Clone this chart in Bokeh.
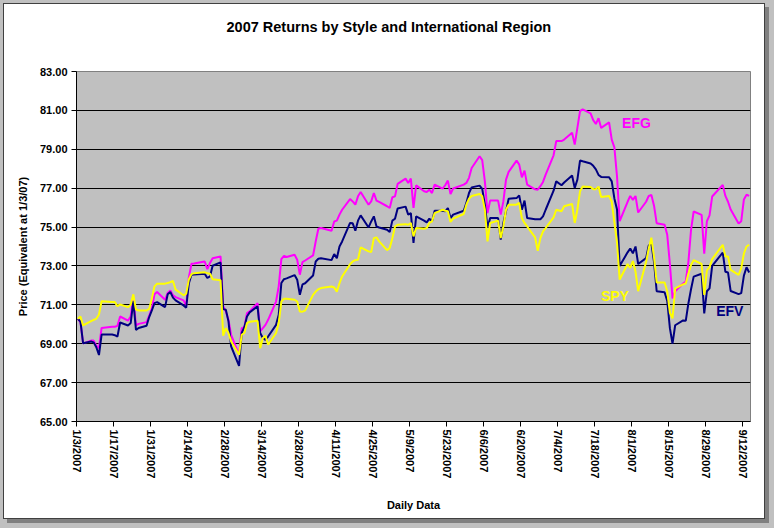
from datetime import datetime, timedelta
from bokeh.plotting import figure
from bokeh.models import Range1d, FixedTicker, NumeralTickFormatter, DatetimeTickFormatter, Label
from bokeh.embed import file_html
from bokeh.resources import INLINE

# ---------------- data ----------------
trading_days = {
    1: [3, 4, 5, 8, 9, 10, 11, 12, 16, 17, 18, 19, 22, 23, 24, 25, 26, 29, 30, 31],
    2: [1, 2, 5, 6, 7, 8, 9, 12, 13, 14, 15, 16, 20, 21, 22, 23, 26, 27, 28],
    3: [1, 2, 5, 6, 7, 8, 9, 12, 13, 14, 15, 16, 19, 20, 21, 22, 23, 26, 27, 28, 29, 30],
    4: [2, 3, 4, 5, 9, 10, 11, 12, 13, 16, 17, 18, 19, 20, 23, 24, 25, 26, 27, 30],
    5: [1, 2, 3, 4, 7, 8, 9, 10, 11, 14, 15, 16, 17, 18, 21, 22, 23, 24, 25, 29, 30, 31],
    6: [1, 4, 5, 6, 7, 8, 11, 12, 13, 14, 15, 18, 19, 20, 21, 22, 25, 26, 27, 28, 29],
    7: [2, 3, 5, 6, 9, 10, 11, 12, 13, 16, 17, 18, 19, 20, 23, 24, 25, 26, 27, 30, 31],
    8: [1, 2, 3, 6, 7, 8, 9, 10, 13, 14, 15, 16, 17, 20, 21, 22, 23, 24, 27, 28, 29, 30, 31],
    9: [4, 5, 6, 7, 10, 11, 12, 13, 14],
}

efg = [
    70.28, 70.11, 69.02, 69.16, 69.16, 68.90, 68.78, 69.81, 69.87, 69.87, 69.92, 70.40, 70.19, 70.40, 71.37, 69.94, 70.02, 70.11, 70.45, 70.80,
    71.54, 71.66, 71.26, 71.61, 71.74, 71.49, 71.40, 71.23, 70.97, 72.40, 73.11, 73.13, 73.23, 72.84, 73.15, 73.40, 73.49, 70.92, 70.66,
    70.23, 69.46, 68.43, 69.80, 69.85, 70.57, 70.66, 71.09, 69.63, 69.80, 69.97, 70.23, 71.17, 71.95, 73.35, 73.52, 73.46, 73.58, 73.32, 72.55, 73.20, 73.28,
    73.54, 74.26, 74.91, 74.95, 74.81, 75.29, 75.33, 75.64, 75.89, 76.44, 76.32, 76.15, 76.58, 76.80, 76.15, 76.32, 76.75, 76.36, 76.29, 76.07,
    75.98, 76.53, 76.58, 77.22, 77.49, 77.27, 77.49, 75.98, 77.15, 76.84, 76.80, 76.92, 76.75, 77.18, 76.98, 77.15, 77.39, 76.70, 76.98, 77.18, 77.27, 77.53,
    78.04, 78.64, 78.44, 77.35, 75.72, 76.36, 76.36, 75.64, 76.32, 77.44, 77.84, 78.42, 78.21, 77.56, 77.90, 77.18, 76.94, 76.92, 77.10, 77.32, 77.70,
    78.69, 79.42, 79.42, 79.50, 79.85, 79.24, 80.10, 80.96, 81.05, 80.85, 80.50, 80.30, 80.60, 80.10, 80.38, 79.50, 79.10, 77.60, 75.30, 76.30, 76.60,
    76.40, 76.60, 75.75, 76.30, 76.60, 76.65, 76.10, 75.20, 75.12, 74.60, 73.10, 71.33, 71.70, 72.10, 72.20, 73.20, 74.85, 75.80, 75.63, 73.63, 75.30, 75.60, 76.57,
    77.17, 76.60, 76.30, 75.90, 75.18, 75.30, 76.42, 76.66, 76.60,
]

efv = [
    70.28, 70.14, 69.02, 69.11, 69.07, 68.82, 68.42, 69.47, 69.47, 69.44, 69.37, 70.09, 69.94, 70.06, 71.19, 69.71, 69.81, 69.92, 70.37, 70.71,
    71.09, 71.14, 70.88, 71.54, 71.66, 71.37, 71.23, 70.97, 70.85, 72.10, 72.55, 72.56, 72.60, 72.38, 72.46, 73.01, 73.18, 70.78, 70.75,
    70.15, 68.86, 67.86, 69.55, 69.85, 70.40, 70.61, 70.92, 69.55, 69.29, 69.20, 69.37, 69.97, 70.49, 72.12, 72.32, 72.36, 72.53, 72.29, 71.52, 72.05, 72.11,
    72.51, 73.23, 73.37, 73.40, 73.30, 73.61, 73.40, 74.00, 74.26, 75.21, 75.19, 74.81, 75.33, 75.60, 74.98, 75.29, 75.55, 75.03, 74.98, 74.86,
    74.74, 75.33, 75.43, 75.95, 76.05, 75.64, 75.72, 74.18, 75.55, 75.33, 75.24, 75.43, 75.29, 75.84, 75.84, 75.81, 75.98, 75.46, 75.64, 75.84, 76.24, 76.75,
    77.04, 77.13, 76.96, 76.15, 74.98, 75.46, 75.46, 74.35, 75.21, 75.81, 76.46, 76.49, 76.63, 75.89, 76.36, 75.46, 75.40, 75.40, 75.40, 75.55, 75.89,
    76.87, 77.35, 77.15, 77.29, 77.65, 77.01, 77.44, 78.42, 78.38, 78.27, 78.15, 77.97, 77.68, 77.58, 77.56, 77.35, 76.47, 75.90, 73.00, 73.70, 73.90,
    73.65, 74.00, 73.10, 73.40, 74.05, 74.15, 73.20, 71.70, 71.65, 71.20, 69.80, 69.00, 69.95, 70.20, 70.18, 71.07, 71.80, 72.45, 72.60, 70.56, 71.70, 71.85, 73.00,
    73.69, 72.70, 72.66, 71.71, 71.55, 71.60, 72.50, 72.93, 72.66,
]

spy = [
    70.28, 70.40, 69.94, 70.16, 70.23, 70.28, 70.50, 71.19, 71.14, 71.14, 70.93, 71.02, 70.88, 71.00, 71.54, 70.76, 70.71, 70.71, 70.80, 71.31,
    71.95, 72.09, 72.09, 72.12, 72.17, 72.23, 71.78, 71.49, 71.57, 72.30, 72.58, 72.63, 72.67, 72.63, 72.60, 72.32, 72.26, 69.41, 69.80,
    69.55, 69.12, 68.43, 69.46, 69.55, 70.06, 70.13, 70.18, 68.77, 69.29, 69.41, 68.95, 69.55, 70.06, 71.17, 71.31, 71.31, 71.26, 71.17, 70.66, 70.65, 70.70,
    71.51, 71.68, 71.80, 71.86, 71.94, 71.89, 71.68, 72.11, 72.46, 73.09, 73.23, 73.30, 73.32, 73.95, 73.75, 73.71, 74.43, 74.47, 74.26, 73.81,
    73.92, 74.43, 75.02, 75.12, 75.15, 75.12, 75.21, 74.52, 74.95, 74.91, 74.95, 75.21, 75.29, 75.72, 75.89, 75.84, 75.81, 75.26, 75.43, 75.67, 76.15, 76.46,
    76.60, 76.70, 76.58, 75.89, 74.26, 75.21, 75.33, 74.43, 75.03, 75.89, 76.15, 76.15, 76.24, 75.46, 75.21, 75.03, 74.47, 73.78, 74.43, 74.78, 74.95,
    75.50, 75.89, 75.81, 76.07, 76.19, 75.21, 75.89, 76.84, 77.08, 77.06, 76.95, 76.95, 77.08, 76.55, 76.60, 76.30, 75.25, 74.20, 72.30, 73.10, 72.90,
    73.25, 72.70, 71.70, 73.20, 73.90, 74.45, 73.45, 72.15, 72.15, 71.70, 70.60, 70.30, 71.85, 72.05, 72.10, 72.60, 73.05, 73.30, 73.10, 71.51, 72.77, 72.94, 73.35,
    74.09, 73.49, 73.49, 72.80, 72.54, 72.89, 73.63, 74.00, 74.09,
]

y_ticks = [65, 67, 69, 71, 73, 75, 77, 79, 81, 83]
x_tick_start = datetime(2007, 1, 3)
x_tick_step_days = 14
x_tick_count = 19

# ---------------- build ----------------
dates = [datetime(2007, m, d) for m in sorted(trading_days) for d in trading_days[m]]
# Excel date axis, "between tick marks": each day's point sits mid-slot
xs = [d + timedelta(hours=12) for d in dates]

EPOCH = datetime(1970, 1, 1)
def ms(dt):
    return (dt - EPOCH).total_seconds() * 1000.0

tick_dates = [x_tick_start + timedelta(days=x_tick_step_days * i) for i in range(x_tick_count)]

FONT = "Liberation Sans"

p = figure(
    width=762, height=516,
    x_axis_type="datetime",
    x_range=Range1d(ms(datetime(2007, 1, 3)), ms(datetime(2007, 9, 15))),
    y_range=Range1d(65, 83),
    output_backend="svg", toolbar_location=None,
    min_border_left=72, min_border_right=16, min_border_top=67, min_border_bottom=99,
    background_fill_color="#C0C0C0", border_fill_color="white",
)
p.outline_line_color = "#808080"
p.outline_line_width = 1

# chart title (extra empty lines lift it away from the plot frame)
p.title.text = "2007 Returns by Style and International Region\n\n"
p.title.align = "left"
p.title.offset = 150
p.title.standoff = 9
p.title.text_font = FONT
p.title.text_font_style = "bold"
p.title.text_font_size = "14.5px"
p.title.text_color = "black"

# grid
p.xgrid.visible = False
p.ygrid.ticker = FixedTicker(ticks=y_ticks)
p.ygrid.grid_line_color = "black"
p.ygrid.grid_line_width = 1

# y axis
p.yaxis.ticker = FixedTicker(ticks=y_ticks)
p.yaxis.formatter = NumeralTickFormatter(format="0.00")
p.yaxis.axis_label = "Price (Equivalent at 1/3/07)"
p.yaxis.major_tick_out = 5
p.yaxis.major_tick_in = 0
p.yaxis.minor_tick_out = 0
p.yaxis.minor_tick_in = 0
p.yaxis.major_label_standoff = 4
p.yaxis.axis_label_standoff = 8

# x axis
p.xaxis.ticker = FixedTicker(ticks=[ms(t) for t in tick_dates])
fmt = "%-m/%-d/%Y"
p.xaxis.formatter = DatetimeTickFormatter(
    microseconds=fmt, milliseconds=fmt, seconds=fmt, minsec=fmt, minutes=fmt,
    hourmin=fmt, hours=fmt, days=fmt, months=fmt, years=fmt,
)
p.xaxis.major_label_orientation = "vertical"
p.xaxis.axis_label = "Daily Data"
p.xaxis.major_tick_out = 5
p.xaxis.major_tick_in = 0
p.xaxis.minor_tick_out = 0
p.xaxis.minor_tick_in = 0
p.xaxis.major_label_standoff = 3
p.xaxis.axis_label_standoff = 18

for ax in (p.xaxis, p.yaxis):
    ax.axis_line_color = "black"
    ax.major_tick_line_color = "black"
    ax.major_label_text_font = FONT
    ax.major_label_text_font_style = "bold"
    ax.major_label_text_font_size = "11px"
    ax.major_label_text_color = "black"
    ax.axis_label_text_font = FONT
    ax.axis_label_text_font_style = "bold"
    ax.axis_label_text_font_size = "11px"
    ax.axis_label_text_color = "black"

# series
p.line(xs, efg, line_color="#FF00FF", line_width=2)
p.line(xs, efv, line_color="#000080", line_width=2)
p.line(xs, spy, line_color="#FFFF00", line_width=2)

# series name labels
for txt, when, yv, col in [
    ("EFG", datetime(2007, 7, 28, 10), 80.35, "#FF00FF"),
    ("SPY", datetime(2007, 7, 20, 10), 71.43, "#FFFF00"),
    ("EFV", datetime(2007, 9, 2, 0), 70.66, "#000080"),
]:
    p.add_layout(Label(x=ms(when), y=yv, text=txt, text_color=col, text_font=FONT,
                       text_font_style="bold", text_font_size="14px",
                       text_align="left", text_baseline="middle"))

# Excel-like chart area: grey surround, dark border, drop shadow
p.styles = {
    "margin-left": "3px",
    "margin-top": "3px",
    "border": "1px solid #404040",
    "box-shadow": "4px 4px 0px 0px #808080, 0px 0px 0px 12px #C0C0C0",
}

open("out.html", "w").write(file_html(p, INLINE))
